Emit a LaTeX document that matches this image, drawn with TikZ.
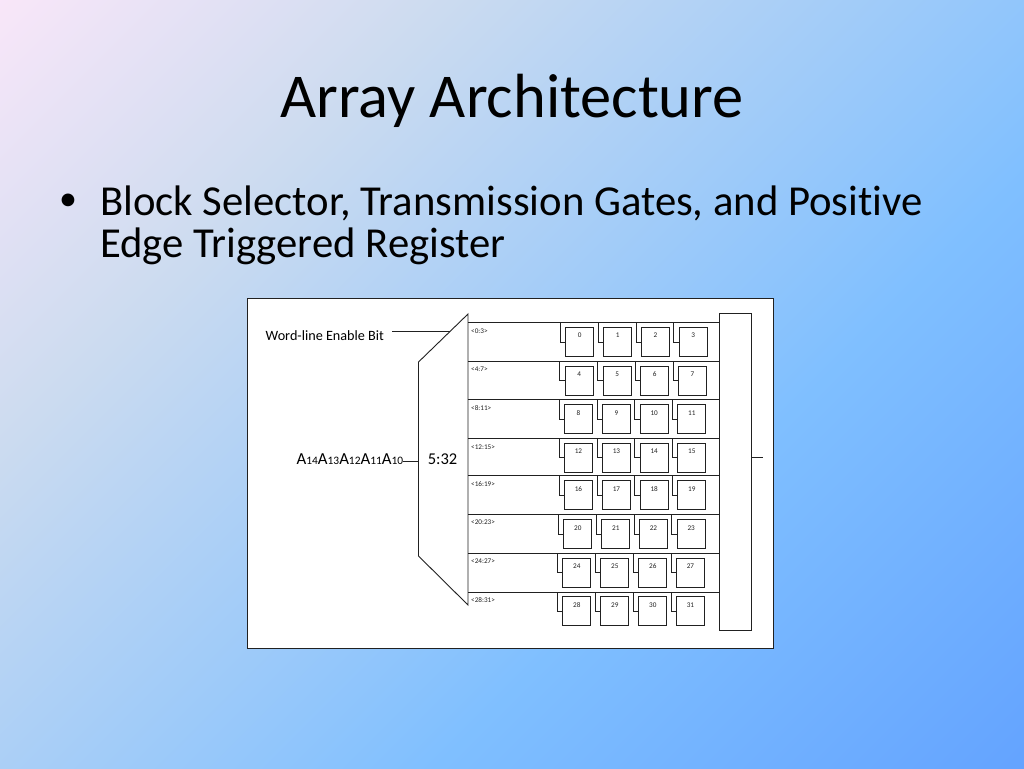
\documentclass[tikz,border=0pt]{standalone}
\usepackage{fontspec}
\setmainfont{Carlito}[Ligatures=NoCommon]
\usetikzlibrary{calc,positioning}
\definecolor{LineClr}{rgb}{0.13,0.13,0.13}
\pgfdeclarehorizontalshading{slideback}{100bp}{rgb(0bp)=(1,0.91,0.98);rgb(12bp)=(1,0.91,0.98);rgb(32bp)=(0.80,0.86,0.94);rgb(62bp)=(0.50,0.75,1);rgb(92bp)=(0.36,0.61,1);rgb(100bp)=(0.36,0.61,1)}
\tikzset{
  regbox/.style={draw=LineClr,line width=0.9pt,fill=white,minimum width=28pt,minimum height=29pt,inner sep=0pt},
  regnum/.style={font=\fontsize{7.2}{8}\selectfont,text=LineClr,inner sep=0pt},
  rangelbl/.style={font=\fontsize{7.2}{8}\selectfont,text=LineClr,inner sep=0pt,anchor=west},
  wire/.style={draw=LineClr,line width=0.9pt}
}
\begin{document}
\begin{tikzpicture}[x=1pt,y=-1pt]
\useasboundingbox (0,0) rectangle (1024,768);
% slide background
\shade[shading=slideback,shading angle=-45] (0,0) rectangle (1024,768);

\node[font=\fontsize{62.4}{62}\selectfont] (title) at (512,101) {Array Architecture};
\node[font=\fontsize{36}{36}\selectfont] (bullet) at (68,202) {•};
\node[font=\fontsize{42.7}{41.5}\selectfont,anchor=north west,inner sep=0pt,align=left] (body) at (100,186) {Block Selector, Transmission Gates, and Positive\\Edge Triggered Register};

\node[draw=LineClr,fill=white,line width=0.8pt,minimum width=526pt,minimum height=350pt,inner sep=0pt] (frame) at (510.75,473.75) {};

% decoder
\coordinate (D1) at (468,314);
\coordinate (D2) at (468,605);
\coordinate (D3) at (418.5,556);
\coordinate (D4) at (418.5,362);
\draw[wire] (D1) -- (D2) -- (D3) -- (D4) -- cycle;
\node[font=\fontsize{16.5}{16}\selectfont] (ratio) at (442.5,459) {5:32};

% right block
\node[draw=LineClr,line width=1pt,minimum width=31.5pt,minimum height=316.5pt,inner sep=0pt] (mux) at (735.5,472) {};
\coordinate (muxout) at (763,457.5);
\draw[wire] (mux.east |- muxout) -- (muxout);

% rows of the array
\foreach \r/\y/\t/\colA/\colB/\colC/\colD/\lab in {
  0/322.5/327/565.3/603.3/641/678.7/{<0:3>},
  1/361/365.7/564.7/602.7/640.3/678/{<4:7>},
  2/399.5/404.3/564/602/639.7/677.3/{<8:11>},
  3/438.5/442.7/564/602/639.7/677.3/{<12:15>},
  4/475.5/480.3/564/602/639.7/677.3/{<16:19>},
  5/514/519.3/563.3/601.3/639/676.7/{<20:23>},
  6/553/557.7/562.3/600.3/638.3/676/{<24:27>},
  7/592/596.3/562.3/600.3/638.3/676/{<28:31>}}
{
  \coordinate (row\r) at (468,\y);
  \draw[wire] (row\r) -- (mux.west |- row\r);
  \node[rangelbl] (range\r) at ($(row\r)+(3,8.5)$) {\lab};
  \foreach \x [count=\i from 0] in {\colA,\colB,\colC,\colD} {
    \pgfmathtruncatemacro{\n}{4*\r+\i}
    \node[regbox,anchor=north west] (reg\n) at (\x,\t) {};
    \node[regnum] (num\n) at ($(reg\n.north)+(0,8.5)$) {\n};
    \coordinate (clk\n) at ($(\x,\y)+(-4.8,0)$);
    \draw[wire] (clk\n) |- (reg\n.west);
  }
}

% inputs
\node[font=\fontsize{14.2}{14}\selectfont,anchor=west,inner sep=0pt] (wordbit) at (265.5,336) {Word-line Enable Bit};
\coordinate (wordstart) at (392,331.5);
\coordinate (wordend) at (450,331.5);
\draw[wire] (wordstart) -- (wordend);
\node[font=\fontsize{16.8}{16}\selectfont,anchor=west,inner sep=0pt] (addr) at (296.5,459) {A{\fontsize{11.4}{11}\selectfont 14}A{\fontsize{11.4}{11}\selectfont 13}A{\fontsize{11.4}{11}\selectfont 12}A{\fontsize{11.4}{11}\selectfont 11}A{\fontsize{11.4}{11}\selectfont 10}};
\coordinate (addrend) at (418.5,461.5);
\draw[wire] (addr.east |- addrend) -- (addrend);
\end{tikzpicture}
\end{document}
